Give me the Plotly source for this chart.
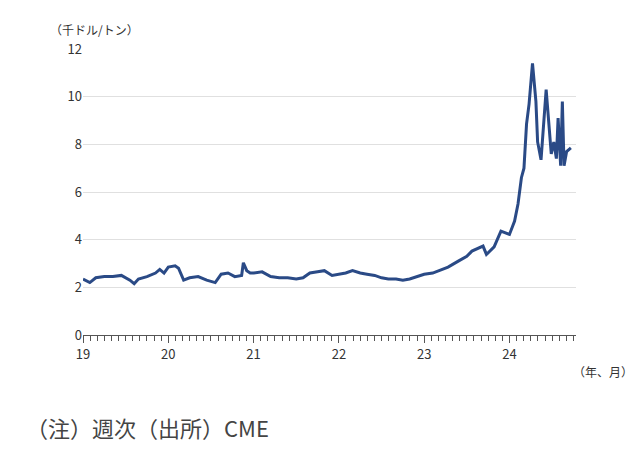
import plotly.graph_objects as go

# x in years since 2019-01, y in thousand USD/ton
t = [0.00,0.08,0.15,0.25,0.35,0.45,0.55,0.60,0.65,0.75,0.85,0.90,0.95,
     1.00,1.08,1.12,1.18,1.25,1.35,1.45,1.55,1.62,1.70,1.78,1.86,1.88,1.92,1.96,
     2.00,2.10,2.20,2.30,2.40,2.50,2.58,2.66,2.75,2.83,2.92,
     3.00,3.08,3.16,3.25,3.33,3.42,3.50,3.58,3.67,3.75,3.83,3.92,
     4.00,4.10,4.16,4.28,4.40,4.50,4.56,4.69,4.73,4.82,4.90,5.00,5.06,5.10,5.14,5.17,5.20,5.23,
     5.27,5.31,5.33,5.37,5.43,5.47,5.49,5.52,5.55,5.57,5.60,5.62,5.64,5.67,5.72]
price = [2.35,2.20,2.40,2.45,2.45,2.50,2.30,2.15,2.35,2.45,2.60,2.75,2.60,
         2.85,2.90,2.80,2.30,2.40,2.45,2.30,2.20,2.55,2.60,2.45,2.50,3.03,2.70,2.60,
         2.60,2.65,2.45,2.40,2.40,2.35,2.40,2.60,2.65,2.70,2.50,
         2.55,2.60,2.70,2.60,2.55,2.50,2.40,2.35,2.35,2.30,2.35,2.45,
         2.55,2.60,2.69,2.85,3.10,3.30,3.52,3.73,3.38,3.70,4.36,4.22,4.78,5.50,6.60,7.00,8.85,9.70,
         11.40,9.80,8.10,7.35,10.30,8.40,7.60,8.10,7.40,9.10,7.10,9.80,7.10,7.70,7.85]

years = [0,1,2,3,4,5]
year_labels = ["19","20","21","22","23","24"]

fig = go.Figure()
fig.add_trace(go.Scatter(x=t, y=price, mode="lines",
                         line=dict(color="#2a4a86", width=3), hoverinfo="skip"))
jp = "Noto Sans CJK JP"
fig.update_layout(
    width=640, height=456, margin=dict(l=75, r=72, t=41, b=129),
    plot_bgcolor="white", paper_bgcolor="white", showlegend=False,
    font=dict(family=jp, color="#333333", size=13),
    xaxis=dict(range=[0, 5.78], tickvals=years, ticktext=year_labels,
               showgrid=False, showline=True, linecolor="#555555", linewidth=1,
               ticks="outside", ticklen=7, tickcolor="#555555",
               minor=dict(dtick=1/12, tick0=0, ticks="outside", ticklen=5, tickcolor="#555555"),
               zeroline=False, tickfont=dict(size=13)),
    yaxis=dict(range=[0, 12], dtick=2, showgrid=True, gridcolor="#e0e0e0",
               zeroline=False, showline=False, tickfont=dict(size=13)),
    annotations=[
        dict(text="（千ドル/トン）", xref="paper", yref="paper", x=-0.07, y=1.03,
             xanchor="left", yanchor="bottom", showarrow=False, font=dict(size=12)),
        dict(text="（年、月）", xref="paper", yref="paper", x=1.12, y=-0.09,
             xanchor="right", yanchor="top", showarrow=False, font=dict(size=12)),
        dict(text="（注）週次（出所）CME", xref="paper", yref="paper", x=-0.12, y=-0.26,
             xanchor="left", yanchor="top", showarrow=False, font=dict(size=22, color="#444444")),
    ],
)
fig.write_html("out.html")
